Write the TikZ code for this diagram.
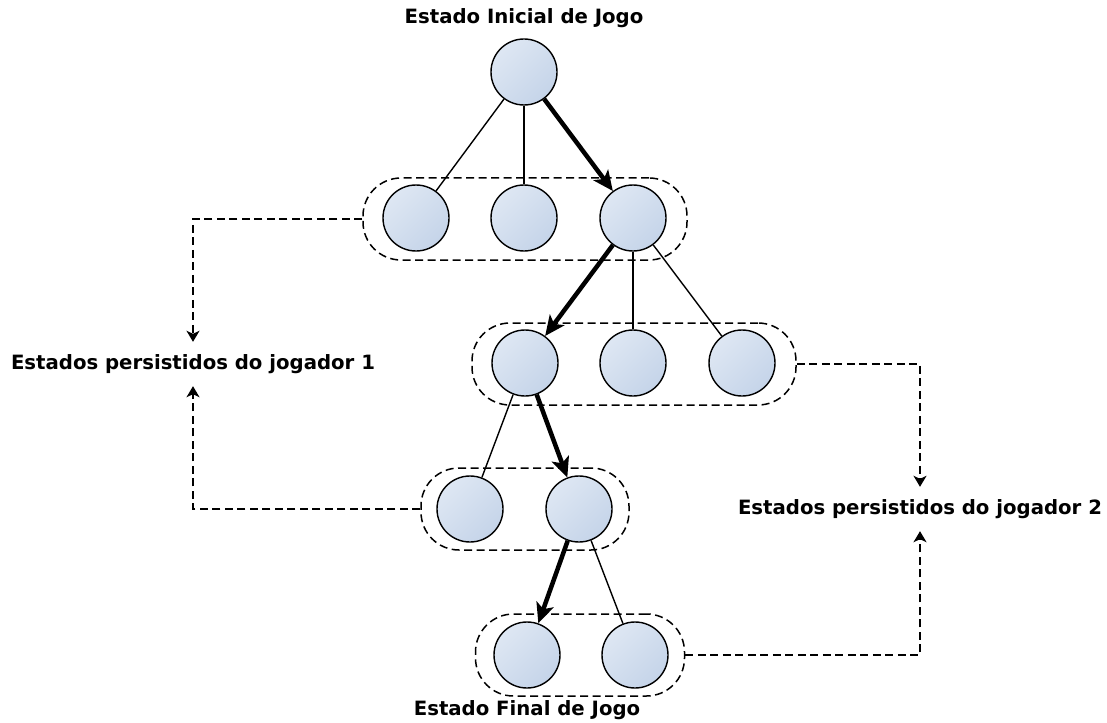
\documentclass[tikz,border=0pt]{standalone}
\usepackage{fontspec}
\setmainfont{DejaVu Sans}
\usetikzlibrary{arrows.meta}
\definecolor{stateLight}{HTML}{DEE7F3}
\definecolor{stateDark}{HTML}{C5D4E9}
\begin{document}
\begin{tikzpicture}[x=1pt,y=-1pt,
  state/.style={circle, draw, line width=1.4pt, minimum size=66pt, inner sep=0pt,
    top color=stateLight, bottom color=stateDark, shading angle=45},
  group/.style={draw, dash pattern=on 8pt off 4.5pt, line width=1.5pt,
    rounded corners=38pt, minimum height=82pt, inner sep=0pt},
  move/.style={line width=1.4pt},
  bestmove/.style={line width=4.5pt, -{Stealth[length=20pt,width=18pt,inset=5pt]}},
  persist/.style={dash pattern=on 8pt off 4.5pt, line width=1.6pt,
    -{Stealth[length=11pt,width=13pt,inset=3pt]}},
  caption/.style={font=\bfseries\fontsize{19.7}{22}\selectfont, inner sep=0pt}
]
\useasboundingbox (0,0) rectangle (1107,722);

% dashed groups of persisted states
\node[group, minimum width=324pt] (g1) at (525,219) {};
\node[group, minimum width=324pt] (g2) at (634,364) {};
\node[group, minimum width=208pt] (g3) at (525,509) {};
\node[group, minimum width=209pt] (g4) at (580,655) {};

% game states
\node[state] (r)  at (524,72) {};
\node[state] (a1) at (416,218) {};
\node[state] (a2) at (524,218) {};
\node[state] (a3) at (633,218) {};
\node[state] (b1) at (525,363) {};
\node[state] (b2) at (633,363) {};
\node[state] (b3) at (742,363) {};
\node[state] (c1) at (470,509) {};
\node[state] (c2) at (579,509) {};
\node[state] (d1) at (527,655) {};
\node[state] (d2) at (635,655) {};

% captions
\node[caption] (top) at (524,18) {Estado Inicial de Jogo};
\node[caption] (bot) at (527,710) {Estado Final de Jogo};
\node[caption, minimum height=44pt] (p1) at (193,364) {Estados persistidos do jogador 1};
\node[caption, minimum height=44pt] (p2) at (920,509) {Estados persistidos do jogador 2};

% moves
\draw[move] (r) -- (a1);
\draw[move] (r) -- (a2);
\draw[bestmove] (r) -- (a3);
\draw[bestmove] (a3) -- (b1);
\draw[move] (a3) -- (b2);
\draw[move] (a3) -- (b3);
\draw[move] (b1) -- (c1);
\draw[bestmove] (b1) -- (c2);
\draw[bestmove] (c2) -- (d1);
\draw[move] (c2) -- (d2);

% persistence links
\draw[persist] (g1.west) -| (p1.north);
\draw[persist] (g3.west) -| (p1.south);
\draw[persist] (g2.east) -| (p2.north);
\draw[persist] (g4.east) -| (p2.south);
\end{tikzpicture}
\end{document}
